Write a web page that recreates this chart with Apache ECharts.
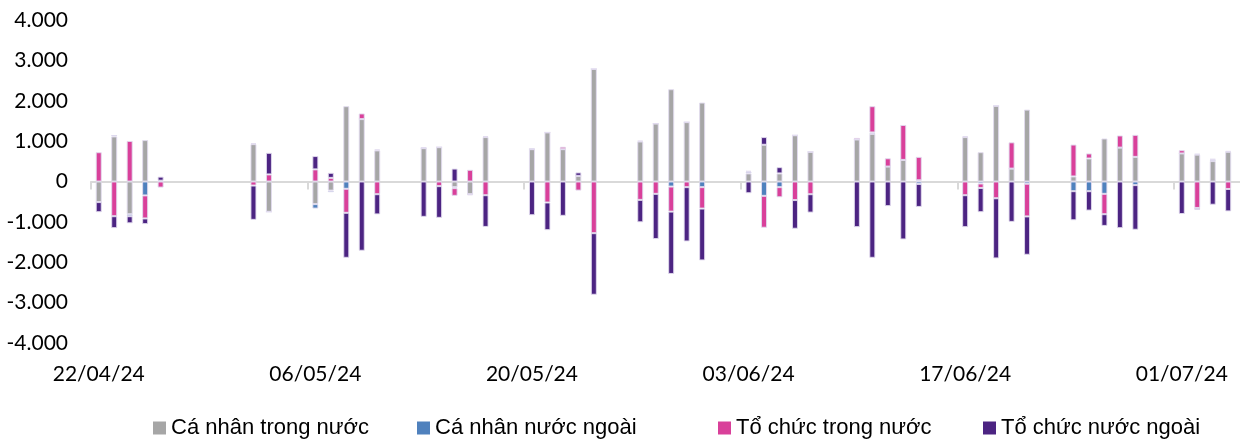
<!DOCTYPE html>
<html>
<head>
<meta charset="utf-8">
<script src="https://cdn.jsdelivr.net/npm/echarts@6/dist/echarts.min.js"></script>
<style>html,body{margin:0;padding:0;background:#fff}#c{width:1240px;height:441px}</style>
</head>
<body>
<div id="c"></div>
<script>
// Calendar days on the axis (dd/mm/yy)
var categories = [
 '22/04/24','23/04/24','24/04/24','25/04/24','26/04/24','27/04/24','28/04/24','29/04/24','30/04/24',
 '01/05/24','02/05/24','03/05/24','04/05/24','05/05/24','06/05/24','07/05/24','08/05/24','09/05/24','10/05/24',
 '11/05/24','12/05/24','13/05/24','14/05/24','15/05/24','16/05/24','17/05/24','18/05/24','19/05/24','20/05/24',
 '21/05/24','22/05/24','23/05/24','24/05/24','25/05/24','26/05/24','27/05/24','28/05/24','29/05/24','30/05/24',
 '31/05/24','01/06/24','02/06/24','03/06/24','04/06/24','05/06/24','06/06/24','07/06/24','08/06/24','09/06/24',
 '10/06/24','11/06/24','12/06/24','13/06/24','14/06/24','15/06/24','16/06/24','17/06/24','18/06/24','19/06/24',
 '20/06/24','21/06/24','22/06/24','23/06/24','24/06/24','25/06/24','26/06/24','27/06/24','28/06/24','29/06/24',
 '30/06/24','01/07/24','02/07/24','03/07/24','04/07/24','05/07/24'
];
// Trading days that carry values
var tradingDays = [
 '22/04/24','23/04/24','24/04/24','25/04/24','26/04/24','02/05/24','03/05/24',
 '06/05/24','07/05/24','08/05/24','09/05/24','10/05/24',
 '13/05/24','14/05/24','15/05/24','16/05/24','17/05/24',
 '20/05/24','21/05/24','22/05/24','23/05/24','24/05/24',
 '27/05/24','28/05/24','29/05/24','30/05/24','31/05/24',
 '03/06/24','04/06/24','05/06/24','06/06/24','07/06/24',
 '10/06/24','11/06/24','12/06/24','13/06/24','14/06/24',
 '17/06/24','18/06/24','19/06/24','20/06/24','21/06/24',
 '24/06/24','25/06/24','26/06/24','27/06/24','28/06/24',
 '01/07/24','02/07/24','03/07/24','04/07/24','05/07/24'
];
var caNhanTrongNuoc = [
 -510,1115,-810,1025,0,925,-750,
 -560,-225,1865,1545,770,
 825,850,-140,-315,1100,
 800,1215,800,140,2790,
 990,1435,2285,1470,1955,
 200,910,200,1145,735,
 1040,1180,370,535,30,
 1100,725,1875,320,1780,
 125,570,1065,840,610,
 695,665,505,735,770
];
var caNhanNuocNgoai = [
 0,35,-50,-345,20,25,0,
 -110,-40,-180,0,25,
 0,0,-25,0,25,
 0,0,0,0,0,
 20,0,-125,0,-140,
 40,-355,-140,0,0,
 0,35,0,0,-60,
 25,-50,0,0,-55,
 -240,-240,-305,0,-90,
 0,20,35,20,0
];
var toChucTrongNuoc = [
 725,-860,1005,-570,-150,-100,175,
 300,90,-595,140,-315,
 20,-115,-190,290,-340,
 25,-520,60,-225,-1280,
 -455,-305,-620,-140,-530,
 25,-790,-250,-460,-315,
 40,650,205,865,580,
 -340,-110,-415,650,-810,
 790,125,-505,300,545,
 80,-655,20,-185,0
];
var toChucNuocNgoai = [
 -250,-295,-175,-140,100,-850,535,
 330,125,-1115,-1715,-500,
 -875,-785,320,-25,-785,
 -835,-685,-850,85,-1525,
 -555,-1120,-1545,-1345,-1285,
 -290,190,155,-710,-455,
 -1130,-1890,-610,-1435,-570,
 -790,-600,-1490,-1000,-950,
 -720,-480,-290,-1155,-1105,
 -805,-45,-575,-555,-780
];
var seriesNames = ['Cá nhân trong nước','Cá nhân nước ngoài','Tổ chức trong nước','Tổ chức nước ngoài'];
var seriesColors = ['#a6a6a6','#4f81bd','#d9409a','#4c2482'];
var yTicks = [-4000,-3000,-2000,-1000,0,1000,2000,3000,4000];

function toCalendar(values){
  var out = categories.map(function(){ return null; });
  tradingDays.forEach(function(d,i){ out[categories.indexOf(d)] = values[i]; });
  return out;
}
function fmt(v){
  var s = String(Math.abs(v)).replace(/\B(?=(\d{3})+(?!\d))/g,'.');
  return (v<0?'-':'')+s;
}
var allValues = [caNhanTrongNuoc,caNhanNuocNgoai,toChucTrongNuoc,toChucNuocNgoai];

var chart = echarts.init(document.getElementById('c'), null, {renderer:'canvas'});
var legendLefts = [153,417,718,983];
chart.setOption({
  animation:false,
  backgroundColor:'#fff',
  grid:{left:91, top:20, height:323, width:1160.4, containLabel:false, outerBoundsMode:'none'},
  legend: seriesNames.map(function(n,i){
    return {data:[n], left:legendLefts[i], top:417, padding:0, icon:'rect', itemWidth:13, itemHeight:13, itemGap:5,
      itemStyle:{borderWidth:0},
      textStyle:{fontFamily:'Liberation Sans, Arial, sans-serif', fontSize:22, color:'#000'}};
  }),
  xAxis:[
    {type:'category', data:categories, position:'bottom', boundaryGap:true,
     axisLine:{show:false, onZero:false}, axisTick:{show:false},
     axisLabel:{interval:13, margin:21, fontFamily:'Lato, sans-serif', fontSize:21, color:'#000'}},
    {type:'category', data:categories, position:'top', boundaryGap:true,
     axisLine:{show:true, onZero:true, lineStyle:{color:'#d9d9d9', width:2}},
     axisTick:{show:true, inside:true, interval:13, length:8, alignWithLabel:false, lineStyle:{color:'#d9d9d9', width:2}},
     axisLabel:{show:false}}
  ],
  yAxis:{type:'value', min:yTicks[0], max:yTicks[yTicks.length-1], interval:1000,
    axisLine:{show:false}, axisTick:{show:false}, splitLine:{show:false},
    axisLabel:{margin:23, fontFamily:'Lato, sans-serif', fontSize:21, color:'#000', formatter:fmt}},
  series: seriesNames.map(function(n,i){
    return {name:n, type:'bar', stack:'total', xAxisIndex:0, barWidth:6,
      itemStyle:{color:seriesColors[i], borderColor:'rgba(225,218,238,0.9)', borderWidth:1},
      data:toCalendar(allValues[i])};
  })
});
</script>
</body>
</html>
